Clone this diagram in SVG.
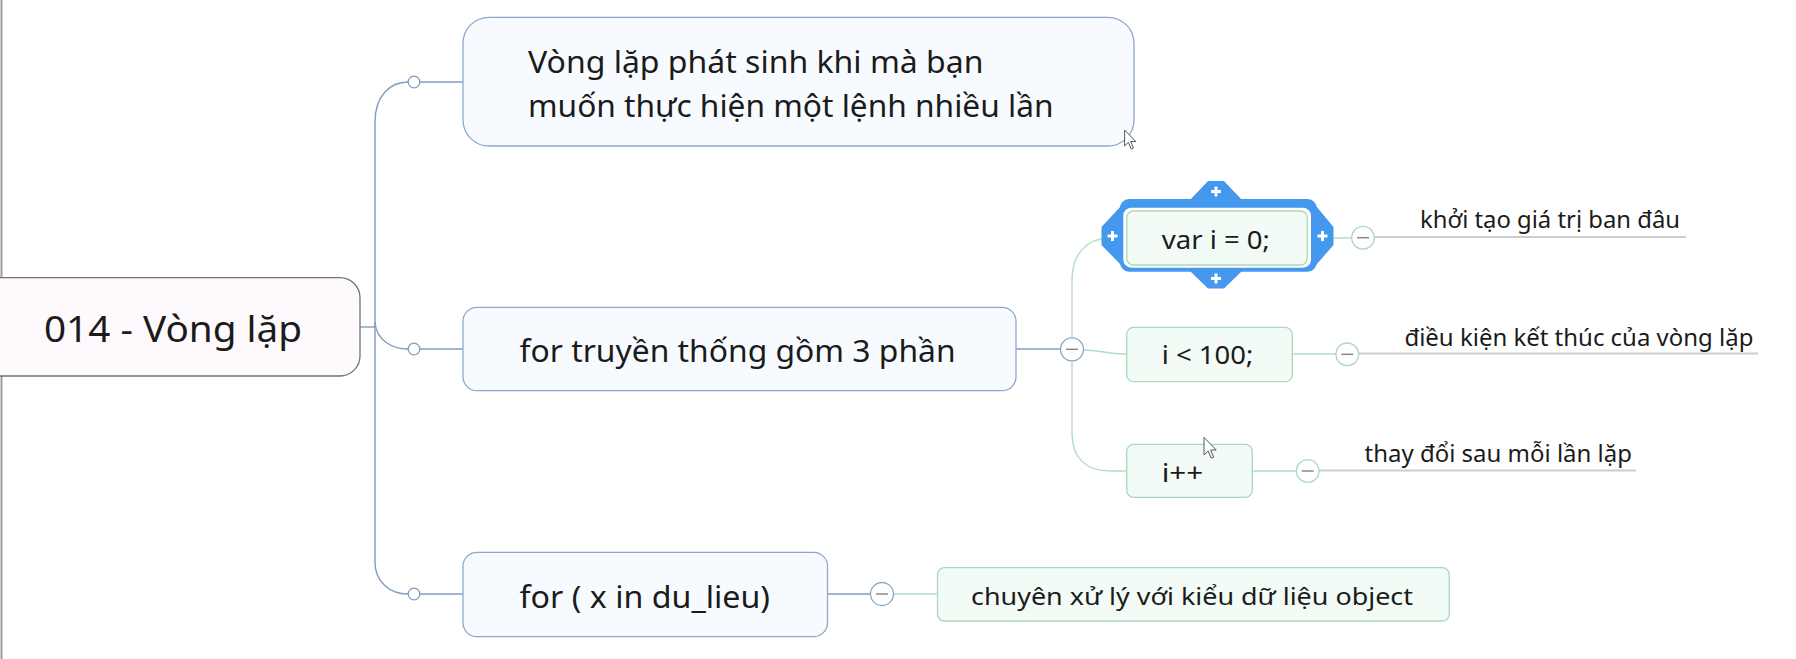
<svg xmlns="http://www.w3.org/2000/svg" width="1796" height="659" viewBox="0 0 1796 659">
<defs>
<style>
text{font-family:"Noto Sans","Open Sans","DejaVu Sans",sans-serif;fill:#1b1b1b;}
.root{fill:#fdf9fc;stroke:#727272;stroke-width:1.3;}
.blue{fill:#f7fbff;stroke:#8ea8cc;stroke-width:1.3;}
.green{fill:#f3fbf6;stroke:#aad8bd;stroke-width:1.3;}
.cb{fill:none;stroke:#7f9cc4;stroke-width:1.4;}
.cg{fill:none;stroke:#b5dcc6;stroke-width:1.4;}
.ul{fill:none;stroke:#cdcdcd;stroke-width:2;}
.dotb{fill:#ffffff;stroke:#7f9cc4;stroke-width:1.3;}
.colb{fill:#ffffff;stroke:#8ea8cc;stroke-width:1.3;}
.colg{fill:#ffffff;stroke:#aad8bd;stroke-width:1.3;}
.minus{stroke:#8a8a8a;stroke-width:1.5;}
.t31{font-size:31px;}
.t25{font-size:25px;}
.t23{font-size:23px;}
.sel{fill:#4499ee;}
.plus{stroke:#ffffff;stroke-width:3;stroke-linecap:butt;}
.cur{fill:#ffffff;stroke:#555555;stroke-width:1;}
</style>
</defs>
<rect x="0" y="0" width="1796" height="659" fill="#ffffff"/>
<line x1="1.5" y1="0" x2="1.5" y2="659" stroke="#9e9e9e" stroke-width="2"/>

<g id="connectors">
  <path class="cb" d="M360,327 H375"/>
  <path class="cb" d="M408,82 C390,82 375,96 375,122 V562 C375,582 390,594 408,594"/>
  <path class="cb" d="M375,322 C376,340 392,349 408,349"/>
  <path class="cb" d="M420,82 H463"/>
  <path class="cb" d="M420,349 H463"/>
  <path class="cb" d="M420,594 H463"/>
  <path class="cb" d="M1016,349 H1060.5"/>
  <path class="cb" d="M827.5,594 H870.5"/>
  <path class="cg" d="M893.5,594 H937.5"/>
  <path class="cg" d="M1126.7,238 H1110 C1086,238 1072,255 1072,280 V337.8"/>
  <path class="cg" d="M1072,360.8 V433 C1072,458 1086,471 1110,471 H1126.7"/>
  <path class="cg" d="M1083.5,350 C1100,350 1105,354 1126.7,354"/>
  <path class="cg" d="M1307.3,238 H1352"/>
  <path class="cg" d="M1292.3,354 H1336.3"/>
  <path class="cg" d="M1252.3,471 H1296.7"/>
  <path class="ul" d="M1374,237 H1686"/>
  <path class="ul" d="M1358.5,353.5 H1758"/>
  <path class="ul" d="M1319,470.5 H1636"/>
  <circle class="dotb" cx="414" cy="82" r="5.8"/>
  <circle class="dotb" cx="414" cy="349" r="5.8"/>
  <circle class="dotb" cx="414" cy="594" r="5.8"/>
</g>

<g id="root">
  <rect class="root" x="-20" y="277.7" width="380" height="98.3" rx="20"/>
  <text x="44" y="341.7" font-size="37" textLength="258" lengthAdjust="spacingAndGlyphs">014 - Vòng lặp</text>
</g>

<g id="node-desc">
  <rect class="blue" x="463" y="17.3" width="671" height="128.7" rx="26"/>
  <text class="t31" x="528" y="73" textLength="455.5" lengthAdjust="spacingAndGlyphs">Vòng lặp phát sinh khi mà bạn</text>
  <text class="t31" x="528" y="117.3" textLength="525.5" lengthAdjust="spacingAndGlyphs">muốn thực hiện một lệnh nhiều lần</text>
</g>

<g id="node-for">
  <rect class="blue" x="463" y="307.3" width="553" height="83.4" rx="14"/>
  <text class="t31" x="519.6" y="361.7" textLength="436" lengthAdjust="spacingAndGlyphs">for truyền thống gồm 3 phần</text>
  <circle class="colb" cx="1072" cy="349.3" r="11.5"/>
  <line class="minus" x1="1066" y1="349.3" x2="1078" y2="349.3"/>
</g>

<g id="node-var">
  <rect class="sel" x="1120" y="199" width="196.7" height="72.7" rx="9"/>
  <polygon class="sel" points="1190,200 1208,181 1224,181 1242,200"/>
  <polygon class="sel" points="1190,271 1208,288.5 1224,288.5 1242,271"/>
  <polygon class="sel" points="1121,206 1101.5,227 1101.5,245 1121,265"/>
  <polygon class="sel" points="1316,206 1333.5,227 1333.5,245 1316,265"/>
  <rect x="1123.3" y="207.7" width="187.7" height="60" rx="8" fill="#ffffff"/>
  <rect class="green" x="1126.7" y="211" width="180.6" height="54" rx="7"/>
  <path class="plus" d="M1211,191.5 H1221 M1216,186.5 V196.5"/>
  <path class="plus" d="M1211,278.5 H1221 M1216,273.5 V283.5"/>
  <path class="plus" d="M1107.5,236 H1117.5 M1112.5,231 V241"/>
  <path class="plus" d="M1317.5,236 H1327.5 M1322.5,231 V241"/>
  <text class="t25" x="1161.7" y="249" textLength="108.3" lengthAdjust="spacingAndGlyphs">var i = 0;</text>
  <circle class="colg" cx="1363" cy="237.7" r="11.3"/>
  <line class="minus" x1="1357" y1="237.7" x2="1369" y2="237.7"/>
</g>

<g id="node-cond">
  <rect class="green" x="1126.7" y="327.3" width="165.6" height="54.4" rx="7"/>
  <text class="t25" x="1161.7" y="364.3" textLength="91.6" lengthAdjust="spacingAndGlyphs">i &lt; 100;</text>
  <circle class="colg" cx="1347.3" cy="354.3" r="11.3"/>
  <line class="minus" x1="1341.3" y1="354.3" x2="1353.3" y2="354.3"/>
</g>

<g id="node-inc">
  <rect class="green" x="1126.7" y="444.3" width="125.6" height="53" rx="7"/>
  <text class="t25" x="1161.7" y="481.7" textLength="41.6" lengthAdjust="spacingAndGlyphs">i++</text>
  <circle class="colg" cx="1307.7" cy="471" r="11.3"/>
  <line class="minus" x1="1301.7" y1="471" x2="1313.7" y2="471"/>
</g>

<g id="label-init">
  <text class="t23" x="1420" y="228.3" textLength="260" lengthAdjust="spacingAndGlyphs">khởi tạo giá trị ban đâu</text>
</g>
<g id="label-end">
  <text class="t23" x="1404.4" y="346" textLength="349" lengthAdjust="spacingAndGlyphs">điều kiện kết thúc của vòng lặp</text>
</g>
<g id="label-change">
  <text class="t23" x="1364.5" y="461.7" textLength="267.5" lengthAdjust="spacingAndGlyphs">thay đổi sau mỗi lần lặp</text>
</g>

<g id="node-forin">
  <rect class="blue" x="463" y="552.3" width="364.5" height="84.4" rx="14"/>
  <text class="t31" x="519.5" y="608.3" textLength="250.5" lengthAdjust="spacingAndGlyphs">for ( x in du_lieu)</text>
  <circle class="colb" cx="882" cy="594" r="11.5"/>
  <line class="minus" x1="876" y1="594" x2="888" y2="594"/>
</g>

<g id="node-object">
  <rect class="green" x="937.5" y="567.7" width="511.8" height="53.3" rx="7"/>
  <text x="971" y="605" font-size="24" textLength="442" lengthAdjust="spacingAndGlyphs">chuyên xử lý với kiểu dữ liệu object</text>
</g>

<g id="cursors">
  <path class="cur" d="M1124.6,130 V146 L1128.4,142.4 L1131.2,149 L1133.4,148 L1130.7,141.5 H1135.8 Z"/>
  <path class="cur" d="M1204,437.3 V455 L1208.2,451 L1211.2,458.2 L1213.6,457.2 L1210.6,450 H1216.2 Z"/>
</g>
</svg>
